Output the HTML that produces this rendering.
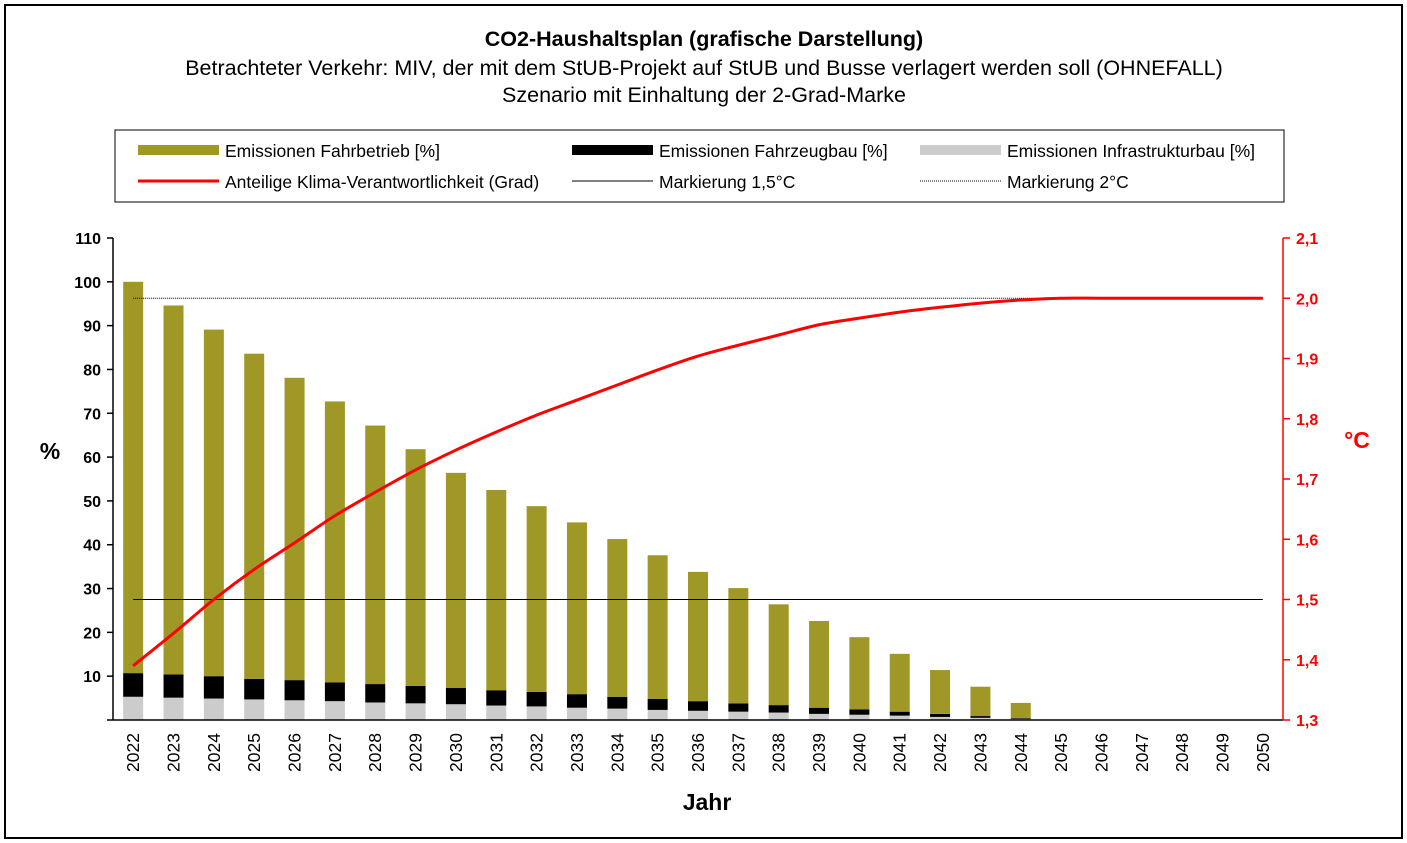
<!DOCTYPE html>
<html><head><meta charset="utf-8"><style>
body{margin:0;background:#fff;font-family:"Liberation Sans",sans-serif}
svg{display:block}
</style></head><body>
<svg id="c" width="1407" height="843" font-family="Liberation Sans, sans-serif">
<rect x="5" y="5" width="1397" height="833" fill="#fff" stroke="#000" stroke-width="2"/>
<text x="704" y="46" text-anchor="middle" font-size="21.5" font-weight="bold">CO2-Haushaltsplan (grafische Darstellung)</text>
<text x="704" y="75" text-anchor="middle" font-size="21.5">Betrachteter Verkehr: MIV, der mit dem StUB-Projekt auf StUB und Busse verlagert werden soll (OHNEFALL)</text>
<text x="704" y="102" text-anchor="middle" font-size="21.5">Szenario mit Einhaltung der 2-Grad-Marke</text>
<g>
<rect x="115" y="130" width="1169" height="72" fill="#fff" stroke="#000" stroke-width="1"/>
<rect x="138" y="145" width="81" height="10" fill="#9f9826"/>
<text x="225" y="157" font-size="17.5">Emissionen Fahrbetrieb [%]</text>
<rect x="572" y="145" width="81" height="10" fill="#000"/>
<text x="659" y="157" font-size="17.5">Emissionen Fahrzeugbau [%]</text>
<rect x="920" y="145" width="81" height="10" fill="#cccccc"/>
<text x="1007" y="157" font-size="17.5">Emissionen Infrastrukturbau [%]</text>
<line x1="138" y1="181" x2="219" y2="181" stroke="#f00" stroke-width="3"/>
<text x="225" y="188" font-size="17.5">Anteilige Klima-Verantwortlichkeit (Grad)</text>
<line x1="572" y1="181" x2="653" y2="181" stroke="#000" stroke-width="1"/>
<text x="659" y="188" font-size="17.5">Markierung 1,5°C</text>
<line x1="920" y1="181" x2="1001" y2="181" stroke="#000" stroke-width="1" stroke-dasharray="1,1"/>
<text x="1007" y="188" font-size="17.5">Markierung 2°C</text>
</g>
<g id="plot"></g>
<text x="50" y="459" text-anchor="middle" font-size="23" font-weight="bold">%</text>
<text x="1357" y="448" text-anchor="middle" font-size="23" font-weight="bold" fill="#f00">°C</text>
<text x="707" y="810" text-anchor="middle" font-size="23" font-weight="bold">Jahr</text>
</svg>
<script>
const years=[2022,2023,2024,2025,2026,2027,2028,2029,2030,2031,2032,2033,2034,2035,2036,2037,2038,2039,2040,2041,2042,2043,2044,2045,2046,2047,2048,2049,2050];
const infra=[5.3,5.1,4.9,4.7,4.5,4.3,4.0,3.8,3.6,3.3,3.1,2.8,2.6,2.3,2.1,1.9,1.7,1.4,1.2,1.0,0.7,0.5,0.3,0,0,0,0,0,0];
const fahrzeug=[5.4,5.3,5.1,4.7,4.6,4.3,4.2,4.0,3.7,3.5,3.3,3.1,2.7,2.5,2.2,1.9,1.7,1.4,1.2,0.9,0.7,0.4,0.2,0,0,0,0,0,0];
const betrieb=[89.3,84.2,79.1,74.2,69.0,64.1,59.0,54.0,49.1,45.7,42.4,39.2,36.0,32.8,29.5,26.3,23.0,19.8,16.5,13.2,10.0,6.7,3.4,0,0,0,0,0,0];
const grad=[1.39,1.444,1.5,1.55,1.594,1.639,1.678,1.715,1.748,1.778,1.806,1.831,1.856,1.881,1.904,1.922,1.939,1.956,1.967,1.977,1.985,1.992,1.997,2.0,2.0,2.0,2.0,2.0,2.0];
const yTicks=[10,20,30,40,50,60,70,80,90,100,110];
const y2Ticks=["1,3","1,4","1,5","1,6","1,7","1,8","1,9","2,0","2,1"];
const mark15=1.5, mark2=2.0;
const NS="http://www.w3.org/2000/svg";
const g=document.getElementById('plot');
const X0=113,X1=1283,YB=720,YT=238;
const step=(X1-X0)/years.length;
const xc=i=>X0+step*(i+0.5);
const y=v=>YB-(v/110)*(YB-YT);
const y2=v=>YB-((v-1.3)/0.8)*(YB-YT);
function mk(t,a){const e=document.createElementNS(NS,t);for(const k in a)e.setAttribute(k,a[k]);g.appendChild(e);return e;}
years.forEach((yr,i)=>{
  const x=xc(i)-10;
  let base=0;
  [[infra[i],'#cccccc','bar-infrastruktur-'],[fahrzeug[i],'#000','bar-fahrzeugbau-'],[betrieb[i],'#9f9826','bar-fahrbetrieb-']].forEach(([v,c,n])=>{
    if(v>0){const r=mk('rect',{x:x,y:y(base+v),width:20,height:y(base)-y(base+v),fill:c});
    
    }
    base+=v;
  });
  const t=mk('text',{x:0,y:0,'font-size':17.5,'text-anchor':'end',transform:`translate(${xc(i)+6},733) rotate(-90)`});
  t.textContent=yr;
  
  
});
const l15=mk('line',{x1:xc(0),x2:xc(years.length-1),y1:y2(mark15),y2:y2(mark15),stroke:'#000','stroke-width':1});


const l2=mk('line',{x1:xc(0),x2:xc(years.length-1),y1:y2(mark2),y2:y2(mark2),stroke:'#000','stroke-width':1,'stroke-dasharray':'1,1'});


const pts=grad.map((v,i)=>[xc(i),y2(v)]);
let d='M'+pts[0][0]+','+pts[0][1];
for(let i=0;i<pts.length-1;i++){
  const p0=pts[Math.max(i-1,0)],p1=pts[i],p2=pts[i+1],p3=pts[Math.min(i+2,pts.length-1)];
  const c1=[p1[0]+(p2[0]-p0[0])/6,p1[1]+(p2[1]-p0[1])/6];
  const c2=[p2[0]-(p3[0]-p1[0])/6,p2[1]-(p3[1]-p1[1])/6];
  d+=` C${c1[0]},${c1[1]} ${c2[0]},${c2[1]} ${p2[0]},${p2[1]}`;
}
const pl=mk('path',{d:d,fill:'none',stroke:'#f00','stroke-width':3,'stroke-linejoin':'round'});


const ax=mk('path',{d:`M${X0},${YT} V${YB} M${X0-6},${YB} H${X1}`,stroke:'#000','stroke-width':1.5,fill:'none'});


yTicks.forEach(v=>{
  mk('line',{x1:X0-6,x2:X0,y1:y(v),y2:y(v),stroke:'#000','stroke-width':1.5});
  const t=mk('text',{x:101,y:y(v)+6,'font-size':16,'font-weight':'bold','text-anchor':'end'});
  t.textContent=v;
  
  
});
const rax=mk('line',{x1:X1,x2:X1,y1:YT,y2:YB,stroke:'#f00','stroke-width':1.5});


y2Ticks.forEach(s=>{
  const v=parseFloat(s.replace(',','.'));
  mk('line',{x1:X1,x2:X1+7,y1:y2(v),y2:y2(v),stroke:'#f00','stroke-width':1.5});
  const t=mk('text',{x:1296,y:y2(v)+6,'font-size':16,'font-weight':'bold',fill:'#f00'});
  t.textContent=s;
  
  
});
</script>
</body></html>
